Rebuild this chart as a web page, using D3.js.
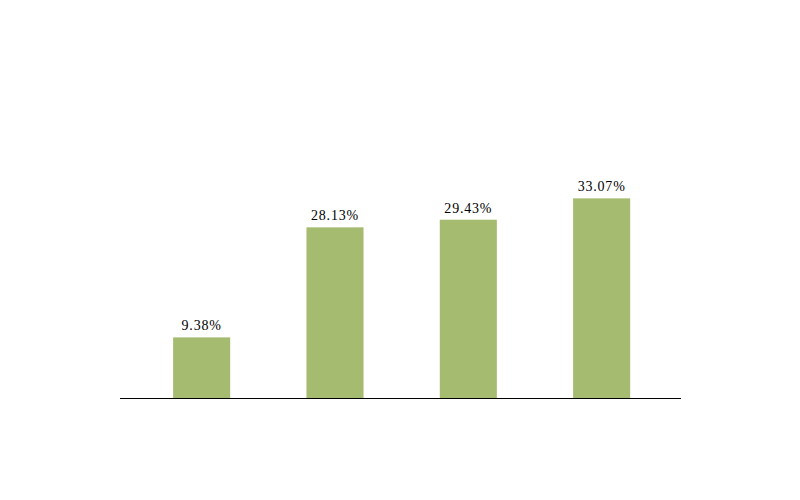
<!DOCTYPE html>
<html>
<head>
<meta charset="utf-8">
<script src="https://cdn.jsdelivr.net/npm/d3@7"></script>
<style>
  body { margin: 0; background: #fff; }
</style>
</head>
<body>
<svg width="800" height="500"></svg>
<script>
// chart data
var categories = ["1", "2", "3", "4"];
var values = [9.38, 28.13, 29.43, 33.07];
var labels = ["9.38%", "28.13%", "29.43%", "33.07%"];

var svg = d3.select("svg"),
    width = +svg.attr("width"),
    height = +svg.attr("height");

// white background
svg.append("rect")
    .attr("width", width)
    .attr("height", height)
    .attr("fill", "#fff");

// x as a band scale over the categories
var x = d3.scaleBand()
    .domain(categories)
    .range([135, 668.3])
    .paddingInner(0.572)
    .paddingOuter(0.286);

// y linear, baseline sits on the axis line
var y = d3.scaleLinear()
    .domain([-0.95, 50])
    .range([398, 99]);

// bars
svg.append("g")
    .selectAll("rect")
    .data(values)
    .enter()
    .append("rect")
        .attr("x", function (d, i) { return x(categories[i]); })
        .attr("y", function (d) { return y(d); })
        .attr("width", x.bandwidth())
        .attr("height", function (d) { return y(-0.95) - y(d); })
        .attr("fill", "#a5bb70");

// value labels above the bars
svg.append("g")
    .selectAll("text")
    .data(values)
    .enter()
    .append("text")
        .attr("x", function (d, i) { return x(categories[i]) + x.bandwidth() / 2; })
        .attr("y", function (d) { return y(d) - 7; })
        .attr("text-anchor", "middle")
        .attr("font-family", "Liberation Serif, serif")
        .attr("font-size", 14)
        .attr("letter-spacing", 0.8)
        .attr("fill", "#000")
        .text(function (d, i) { return labels[i]; });

// baseline axis
svg.append("line")
    .attr("x1", 120)
    .attr("x2", 681)
    .attr("y1", 398.5)
    .attr("y2", 398.5)
    .attr("stroke", "#000")
    .attr("stroke-width", 1);
</script>
</body>
</html>
